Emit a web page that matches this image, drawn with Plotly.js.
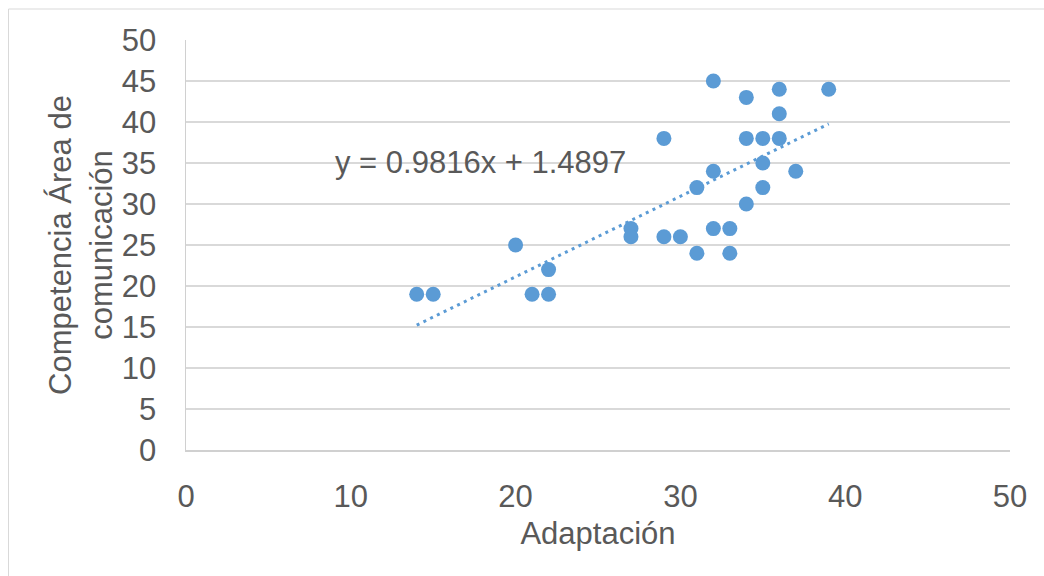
<!DOCTYPE html>
<html>
<head>
<meta charset="utf-8">
<script src="https://cdn.plot.ly/plotly-3.0.1.min.js"></script>
<style>html,body{margin:0;padding:0;background:#fff;}#chart{width:1044px;height:576px;}</style>
</head>
<body>
<div id="chart"></div>
<script>
// Data
var adaptacion = [14, 15, 20, 21, 22, 22, 27, 27, 29, 29, 30, 31, 31, 32, 32, 32, 33, 33, 34, 34, 34, 35, 35, 35, 36, 36, 36, 37, 39];
var competencia = [19, 19, 25, 19, 19, 22, 27, 26, 38, 26, 26, 32, 24, 45, 34, 27, 27, 24, 43, 38, 30, 38, 35, 32, 44, 41, 38, 34, 44];
var trendSlope = 0.9816;
var trendIntercept = 1.4897;
var trendRangeX = [14, 39];
var xTicks = [0, 10, 20, 30, 40, 50];
var yTicks = [0, 5, 10, 15, 20, 25, 30, 35, 40, 45, 50];
var xTitle = 'Adaptación';
var yTitle = 'Competencia Área de<br>comunicación';
var equationText = 'y = 0.9816x + 1.4897';

var trendY = trendRangeX.map(function (x) { return trendSlope * x + trendIntercept; });

var blue = '#5B9BD5';
var textColor = '#595959';
var fontFam = '"Liberation Sans", Arial, sans-serif';

var traces = [
  {
    x: trendRangeX, y: trendY, type: 'scatter', mode: 'lines',
    line: {color: blue, width: 3, dash: '3px,4.5px'},
    hoverinfo: 'skip', showlegend: false
  },
  {
    x: adaptacion, y: competencia, type: 'scatter', mode: 'markers',
    marker: {color: blue, size: 15, line: {width: 0}},
    showlegend: false
  }
];

var layout = {
  width: 1044, height: 576,
  margin: {l: 186, r: 34, t: 40, b: 126, pad: 0},
  paper_bgcolor: '#ffffff', plot_bgcolor: '#ffffff',
  font: {family: fontFam, size: 31, color: textColor},
  showlegend: false,
  xaxis: {
    range: [0, 50], tickvals: xTicks, ticktext: xTicks.map(String),
    showgrid: false, zeroline: false,
    showline: true, linecolor: '#d0d0d0', linewidth: 1.5,
    ticks: '', ticklabelstandoff: 18,
    tickfont: {size: 31, color: textColor, family: fontFam},
    title: {text: xTitle, font: {size: 31, color: textColor, family: fontFam}, standoff: 9},
    automargin: false, fixedrange: true
  },
  yaxis: {
    range: [0, 50], tickvals: yTicks, ticktext: yTicks.map(String),
    showgrid: true, gridcolor: '#d9d9d9', gridwidth: 1.5,
    zeroline: false,
    showline: true, linecolor: '#d0d0d0', linewidth: 1.5,
    ticks: '', ticklabelstandoff: 22,
    tickfont: {size: 31, color: textColor, family: fontFam},
    title: {text: yTitle, font: {size: 31, color: textColor, family: fontFam}, standoff: 0},
    automargin: false, fixedrange: true
  },
  annotations: [
    {
      text: equationText, xref: 'paper', yref: 'paper',
      x: (333 - 186) / 824, y: (450 - 162) / 410,
      xanchor: 'left', yanchor: 'middle', showarrow: false,
      font: {size: 31, color: textColor, family: fontFam}
    }
  ],
  shapes: [
    {
      type: 'rect', xref: 'paper', yref: 'paper', layer: 'below',
      x0: (8.5 - 186) / 824, x1: (1070 - 186) / 824,
      y0: (450 - 600) / 410, y1: (450 - 9) / 410,
      line: {color: '#d9d9d9', width: 1}, fillcolor: 'rgba(0,0,0,0)'
    }
  ]
};

Plotly.newPlot('chart', traces, layout, {displayModeBar: false, staticPlot: true});
</script>
</body>
</html>
